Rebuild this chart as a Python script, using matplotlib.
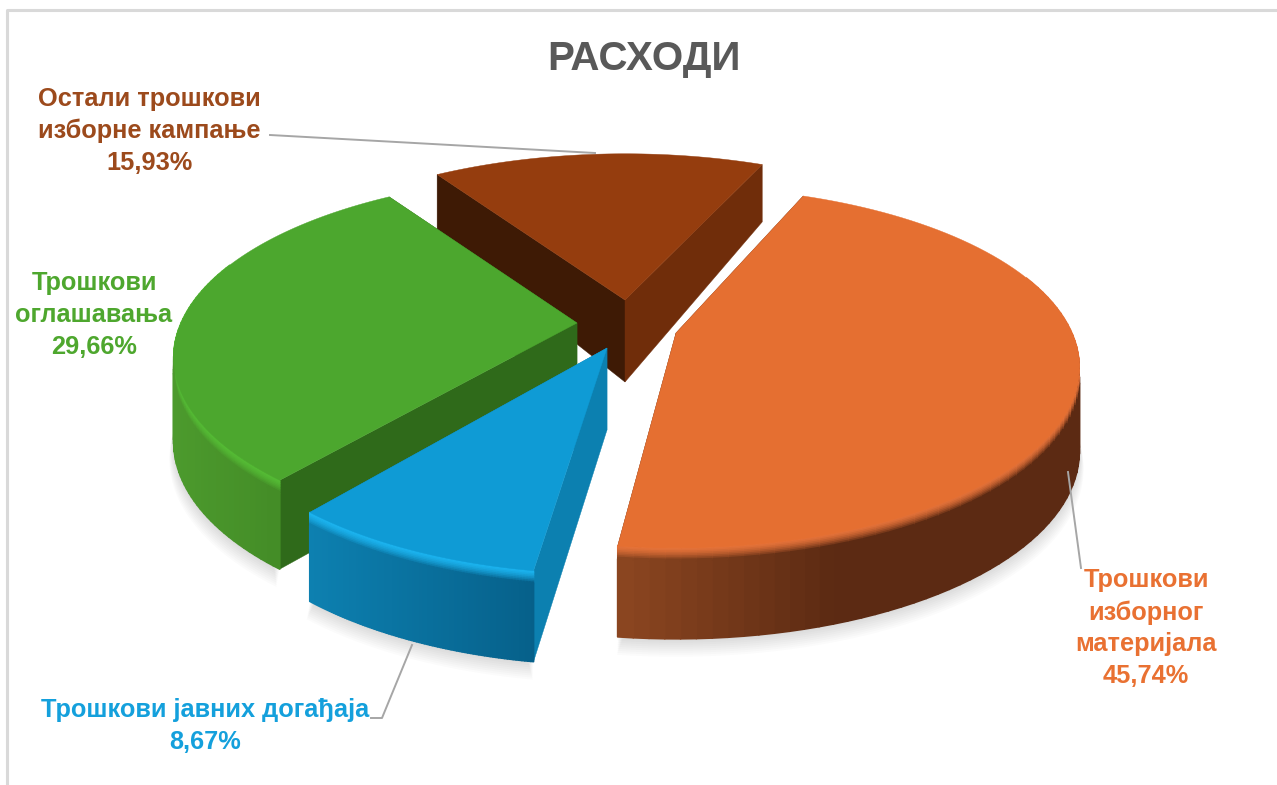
import numpy as np
import matplotlib
matplotlib.use("Agg")
import matplotlib.pyplot as plt
from matplotlib.collections import PolyCollection
from matplotlib.colors import to_rgb

# Data ------------------------------------------------------------------------

categories = ["Трошкови\nизборног\nматеријала", "Трошкови јавних догађаја",
              "Трошкови\nоглашавања", "Остали трошкови\nизборне кампање"]
values = [45.74, 8.67, 29.66, 15.93]
title = "РАСХОДИ"

# Styles ----------------------------------------------------------------------

top_colors = ["#E56F31", "#0F9BD5", "#4CA72E", "#953D0E"]
text_colors = ["#E97132", "#14A0DC", "#4EA72E", "#9C4A1C"]
rim_colors = ["#E8743A", "#1CB6F2", "#55BD35", "#953D0E"]
wall_left = ["#8A4520", "#0D80B0", "#4C9A2D", "#702D0A"]
wall_right = ["#5C2A13", "#06608A", "#3A7D20", "#702D0A"]
wall_mid = [0.45, 1.0, 1.0, 1.0]
cut_end = ["#5C2A13", "#0C80B0", "#2F6A1A", "#702D0A"]    # wall on the end angle side
cut_start = ["#5C2A13", "#0C80B0", "#2F6A1A", "#3E1A05"]
centers = [(676, 333), (607, 348), (577, 323), (625, 300)]
angle_shift = [-1.8, 0, 0, 0]
flats = [174, 183, 175, 174]
label_pos = [(1146, 628), (205, 726), (94, 315), (149, 131)]

start_angle = 24
R = 396
persp = 0.19


def project(center, theta, flat):
    t = np.radians(theta)
    u = np.sin(t)
    v = -np.cos(t)
    w = 1/(1 - persp*v)
    return center[0] + R*u*w, center[1] + flat*v*w, v


def depth(v):
    return np.interp(v, [-1, 0, 1], [55, 82, 91])


def mix(a, b, f):
    a, b = np.array(to_rgb(a)), np.array(to_rgb(b))
    return tuple(a + (b - a)*f)


# Plot ------------------------------------------------------------------------

plt.rcParams['font.family'] = ['Liberation Sans', 'DejaVu Sans']

fig = plt.figure(figsize=(12.77, 7.85), dpi=100)
ax = fig.add_axes([0, 0, 1, 1])
ax.set_xlim(0, 1277)
ax.set_ylim(785, 0)
ax.axis("off")

# chart frame
ax.plot([7, 7, 1277], [785, 10, 10], color="#D9D9D9", lw=2.2, solid_capstyle="butt")

bounds = start_angle + np.cumsum([0] + values)*3.6

# slices are stacked from the back to the front
for i in [3, 2, 1, 0]:
    a0, a1 = bounds[i] + angle_shift[i], bounds[i + 1] + angle_shift[i]
    c = centers[i]
    th = np.linspace(a0, a1, 90)
    x, y, v = project(c, th, flats[i])
    d = depth(v)
    cx0, cy0 = c
    z = 10 + (3 - i)*5 if i != 0 else 30

    # soft shadow under the slice
    vis = v > -0.1
    if vis.any():
        for k in range(1, 10):
            xs = np.r_[x[vis][0] - k*0.6, x[vis] + (x[vis] - cx0)*0.0012*k, x[vis][-1] + k*0.6]
            ys = np.r_[y[vis][0] + d[vis][0], y[vis] + d[vis] + k*2.0, y[vis][-1] + d[vis][-1]]
            ax.fill(xs, ys, color="black", alpha=0.015, lw=0, zorder=z - 1)

    # cut faces go first, the outer wall and the top hide the back facing ones
    d_c = depth(0)
    ax.fill([cx0, x[0], x[0], cx0], [cy0, y[0], y[0] + d[0], cy0 + d_c],
            color=cut_start[i], lw=0.3, zorder=z)
    ax.fill([cx0, x[-1], x[-1], cx0], [cy0, y[-1], y[-1] + d[-1], cy0 + d_c],
            color=cut_end[i], lw=0.3, zorder=z)

    # outer wall, coloured along x
    polys, cols = [], []
    rims, rim_cols = [], []
    span = max(x.max() - x.min(), 1)
    rim = 13
    for j in range(len(th) - 1):
        if v[j] < -0.35:
            continue  # faces away from the viewer
        f = (min(x[j], x[j + 1]) - x.min())/span
        if i in (1, 2):
            base = mix(wall_left[i], wall_right[i], f)
        elif f < wall_mid[i]:
            base = mix(wall_left[i], wall_right[i], f/wall_mid[i])
        else:
            base = to_rgb(wall_right[i])
        polys.append([(x[j], y[j] + rim), (x[j + 1], y[j + 1] + rim),
                      (x[j + 1], y[j + 1] + d[j + 1]), (x[j], y[j] + d[j])])
        cols.append(base)
        # light bevel along the rim
        for k in range(8):
            f0, f1 = k/8, (k + 1)/8
            rims.append([(x[j], y[j] + rim*f0), (x[j + 1], y[j + 1] + rim*f0),
                         (x[j + 1], y[j + 1] + rim*f1), (x[j], y[j] + rim*f1)])
            rim_cols.append(mix(rim_colors[i], base, f1**1.8))
    if polys:
        ax.add_collection(PolyCollection(polys, facecolors=cols, edgecolors=cols, lw=1.2, zorder=z + 1))
        ax.add_collection(PolyCollection(rims, facecolors=rim_cols, edgecolors=rim_cols, lw=1.0, zorder=z + 2))

    # top face
    ax.fill(np.r_[cx0, x], np.r_[cy0, y], color=top_colors[i], lw=0.3, zorder=z + 3)

# leader lines
leader = "#A6A6A6"
ax.plot([270, 595], [135, 153], color=leader, lw=1.4, zorder=40)
ax.plot([412, 382, 371], [645, 718, 718], color=leader, lw=1.4, zorder=40)
ax.plot([1068, 1081], [472, 568], color=leader, lw=1.4, zorder=40)

# labels
for name, val, col, pos in zip(categories, values, text_colors, label_pos):
    txt = name + "\n" + f"{val:.2f}".replace(".", ",") + "%"
    ax.text(pos[0], pos[1], txt, color=col, fontsize=18.3, fontweight="bold",
            ha="center", va="center", linespacing=1.4, zorder=50)

ax.text(644, 59, title, color="#595959", fontsize=29, fontweight="bold",
        ha="center", va="center", zorder=50)

fig.savefig("out.png", dpi=100)
